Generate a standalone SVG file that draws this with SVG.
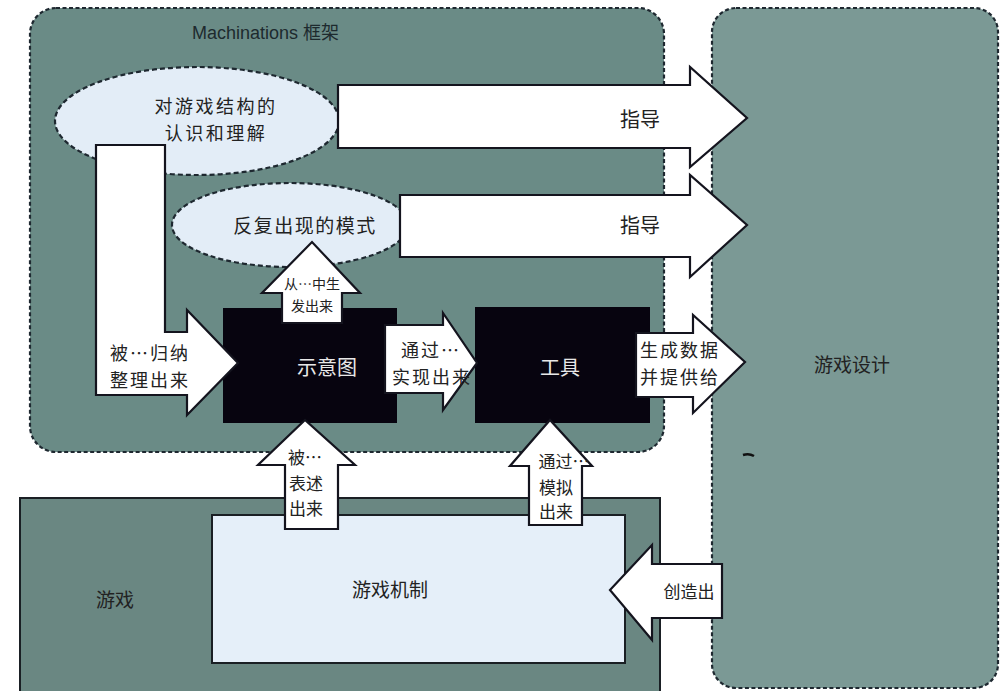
<svg xmlns="http://www.w3.org/2000/svg" width="1000" height="691" viewBox="0 0 1000 691">
  <style>
    .frame { stroke: #1e2830; stroke-width: 2.2; stroke-dasharray: 4 2.5; }
    .bubble { fill: #e3edf7; stroke: #1e2830; stroke-width: 2.2; stroke-dasharray: 5 3; }
    .arrow { fill: #ffffff; stroke: #14141e; stroke-width: 2.2; stroke-linejoin: miter; }
    .box { fill: #07040f; }
    .cn { font-family: "Noto Sans CJK SC", "Liberation Serif", serif; fill: #222222; text-anchor: middle; }
    .cnw { font-family: "Noto Sans CJK SC", "Liberation Serif", serif; fill: #e8e8e8; text-anchor: middle; }
  </style>

  <rect x="0" y="0" width="1000" height="691" fill="#ffffff"/>

  <!-- Game design frame -->
  <g id="game-design">
    <rect class="frame" x="712" y="8" width="286" height="680" rx="24" fill="#7b9995"/>
    <text class="cn" x="852" y="372" font-size="19">游戏设计</text>
    <path d="M743 455 q6 -2 11 1" stroke="#111" stroke-width="2.5" fill="none"/>
  </g>

  <!-- Machinations framework frame -->
  <g id="machinations">
    <rect class="frame" x="30" y="8" width="634" height="444" rx="26" fill="#6a8b86"/>
    <text x="192" y="39" font-family="Liberation Sans, Arial, 'Noto Sans CJK SC', sans-serif" font-size="18" fill="#1d2a2e">Machinations 框架</text>
  </g>

  <!-- Knowledge bubbles -->
  <g id="understanding">
    <ellipse class="bubble" cx="197" cy="121" rx="142" ry="54"/>
    <text class="cn" x="216" y="113" font-size="18" letter-spacing="2.5">对游戏结构的</text>
    <text class="cn" x="216" y="140" font-size="18" letter-spacing="2.5">认识和理解</text>
  </g>
  <g id="patterns">
    <ellipse class="bubble" cx="290" cy="225" rx="118" ry="42"/>
    <text class="cn" x="305" y="233" font-size="19" letter-spacing="1.5">反复出现的模式</text>
  </g>

  <!-- Diagram and tool boxes -->
  <g id="diagram">
    <rect class="box" x="223" y="308" width="174" height="115"/>
    <text class="cnw" x="327" y="375" font-size="20">示意图</text>
  </g>
  <g id="tool">
    <rect class="box" x="475" y="307" width="175" height="116"/>
    <text class="cnw" x="560" y="375" font-size="20">工具</text>
  </g>

  <!-- Game with its mechanics -->
  <g id="game">
    <rect x="20" y="498" width="640" height="200" fill="#6a8782" stroke="#1a1f24" stroke-width="2"/>
    <text class="cn" x="115" y="607" font-size="19">游戏</text>
  </g>
  <g id="mechanics">
    <rect x="212" y="515" width="413" height="148" fill="#e5eff9" stroke="#1a1f24" stroke-width="2"/>
    <text class="cn" x="390" y="597" font-size="19">游戏机制</text>
  </g>

  <!-- Block-arrow connectors -->
  <g id="connectors">
    <!-- understanding guides design -->
    <path class="arrow" d="M338 85 H690 V67 L747 118 L690 167 V148 H338 Z"/>
    <text class="cn" x="640" y="127" font-size="20">指导</text>
    <!-- patterns guide design -->
    <path class="arrow" d="M400 195 H690 V175 L747 225 L690 277 V257 H400 Z"/>
    <text class="cn" x="640" y="233" font-size="20">指导</text>
    <!-- understanding summarised into diagram -->
    <path class="arrow" d="M96 145 H165 V332 H187 V310 L238 363 L187 415 V395 H96 Z"/>
    <text class="cn" x="150" y="360" font-size="18" letter-spacing="2">被…归纳</text>
    <text class="cn" x="150" y="387" font-size="18" letter-spacing="2">整理出来</text>
    <!-- patterns emerge from diagram -->
    <path class="arrow" d="M282 323 V293 H262 L312 242 L360 293 H342 V323 Z"/>
    <text class="cn" x="312" y="289" font-size="14">从…中生</text>
    <text class="cn" x="312" y="311" font-size="14">发出来</text>
    <!-- diagram implemented as tool -->
    <path class="arrow" d="M385 325 H443 V313 L477 363 L443 410 V393 H385 Z"/>
    <text class="cn" x="431" y="357" font-size="18" letter-spacing="2">通过…</text>
    <text class="cn" x="432" y="384" font-size="18" letter-spacing="2">实现出来</text>
    <!-- tool feeds data to design -->
    <path class="arrow" d="M636 333 H693 V315 L745 362 L693 413 V397 H636 Z"/>
    <text class="cn" x="680" y="357" font-size="18" letter-spacing="2">生成数据</text>
    <text class="cn" x="680" y="384" font-size="18" letter-spacing="2">并提供给</text>
    <!-- mechanics expressed by diagram -->
    <path class="arrow" d="M285 529 V465 H258 L305 420 L355 465 H338 V529 Z"/>
    <text class="cn" x="305" y="464" font-size="17">被…</text>
    <text class="cn" x="306" y="490" font-size="17">表述</text>
    <text class="cn" x="306" y="515" font-size="17">出来</text>
    <!-- mechanics simulated by tool -->
    <path class="arrow" d="M529 525 V466 H510 L550 420 L592 466 H582 V525 Z"/>
    <text class="cn" x="564" y="468" font-size="17">通过…</text>
    <text class="cn" x="556" y="494" font-size="17">模拟</text>
    <text class="cn" x="556" y="518" font-size="17">出来</text>
    <!-- design creates mechanics -->
    <path class="arrow" d="M722 564 H652 V545 L610 590 L652 640 V618 H722 Z"/>
    <text class="cn" x="689" y="598" font-size="17">创造出</text>
  </g>
</svg>
